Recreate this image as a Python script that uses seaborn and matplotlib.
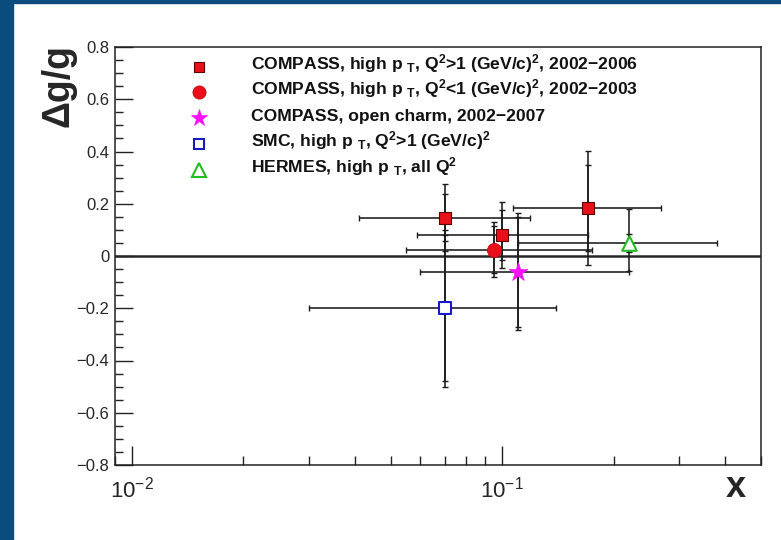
import numpy as np
import pandas as pd
import matplotlib
matplotlib.use("Agg")
import matplotlib.pyplot as plt
import seaborn as sns
from matplotlib.lines import Line2D
from matplotlib.patches import Rectangle
from matplotlib.ticker import FixedLocator, FixedFormatter, LogLocator, NullFormatter

# ---------------- data ----------------
# COMPASS, high pT, Q2>1, 2002-2006 (three x bins)
c06_x = [0.07, 0.10, 0.17]
c06_y = [0.147, 0.079, 0.185]
c06_stat = [0.091, 0.096, 0.165]
c06_tot_up = [0.127, 0.126, 0.218]
c06_tot_dn = [0.127, 0.126, 0.218]
c06_xlo = [0.041, 0.059, 0.107]
c06_xhi = [0.119, 0.170, 0.268]

# COMPASS, high pT, Q2<1, 2002-2003
c03_x = [0.095]
c03_y = [0.024]
c03_stat = [0.089]
c03_tot_up = [0.106]
c03_tot_dn = [0.106]
c03_xlo = [0.055]
c03_xhi = [0.175]

# COMPASS, open charm, 2002-2007
occ_x = [0.11]
occ_y = [-0.06]
occ_stat = [0.21]
occ_tot_up = [0.225]
occ_tot_dn = [0.225]
occ_xlo = [0.060]
occ_xhi = [0.220]

# SMC, high pT, Q2>1
smc_x = [0.07]
smc_y = [-0.20]
smc_stat = [0.28]
smc_tot_up = [0.30]
smc_tot_dn = [0.30]
smc_xlo = [0.030]
smc_xhi = [0.140]

# HERMES, high pT, all Q2
her_x = [0.22]
her_y = [0.049]
her_stat = [0.034]
her_tot_up = [0.131]
her_tot_dn = [0.105]
her_xlo = [0.110]
her_xhi = [0.380]

legend_labels = [
    r"COMPASS, high p $_{\mathbf{T}}$, Q$^{\mathbf{2}}$>1 (GeV/c)$^{\mathbf{2}}$, 2002−2006",
    r"COMPASS, high p $_{\mathbf{T}}$, Q$^{\mathbf{2}}$<1 (GeV/c)$^{\mathbf{2}}$, 2002−2003",
    "COMPASS, open charm, 2002−2007",
    r"SMC, high p $_{\mathbf{T}}$, Q$^{\mathbf{2}}$>1 (GeV/c)$^{\mathbf{2}}$",
    r"HERMES, high p $_{\mathbf{T}}$, all Q$^{\mathbf{2}}$",
]

y_ticks = [-0.8, -0.6, -0.4, -0.2, 0.0, 0.2, 0.4, 0.6, 0.8]
y_tick_labels = ["−0.8", "−0.6", "−0.4", "−0.2", "0", "0.2", "0.4", "0.6", "0.8"]
x_major_ticks = [0.01, 0.1]
x_tick_labels = [r"$\mathdefault{10^{-2}}$", r"$\mathdefault{10^{-1}}$"]

# ---------------- style ----------------
sns.set_style("white")
plt.rcParams["font.family"] = ["Liberation Sans", "DejaVu Sans"]
plt.rcParams["mathtext.fontset"] = "custom"
plt.rcParams["mathtext.rm"] = "Liberation Sans"
plt.rcParams["mathtext.bf"] = "Liberation Sans:bold"
plt.rcParams["mathtext.it"] = "Liberation Sans:italic"

series = [
    dict(x=c06_x, y=c06_y, stat=c06_stat, up=c06_tot_up, dn=c06_tot_dn, xlo=c06_xlo, xhi=c06_xhi,
         marker="s", s=66, face="#e8101a", edge="#5a0000", lw=0.8, lm=7.5),
    dict(x=c03_x, y=c03_y, stat=c03_stat, up=c03_tot_up, dn=c03_tot_dn, xlo=c03_xlo, xhi=c03_xhi,
         marker="o", s=105, face="#e8101a", edge="#c00010", lw=0.5, lm=9.5),
    dict(x=occ_x, y=occ_y, stat=occ_stat, up=occ_tot_up, dn=occ_tot_dn, xlo=occ_xlo, xhi=occ_xhi,
         marker="*", s=200, face="#ff10ff", edge="#ff10ff", lw=0.5, lm=12.5),
    dict(x=smc_x, y=smc_y, stat=smc_stat, up=smc_tot_up, dn=smc_tot_dn, xlo=smc_xlo, xhi=smc_xhi,
         marker="s", s=72, face="white", edge="#1818c8", lw=1.5, lm=7.5),
    dict(x=her_x, y=her_y, stat=her_stat, up=her_tot_up, dn=her_tot_dn, xlo=her_xlo, xhi=her_xhi,
         marker="^", s=110, face="white", edge="#22bb22", lw=1.5, lm=9.5),
]

fig = plt.figure(figsize=(7.81, 5.40), dpi=100)
fig.patch.set_facecolor("white")
ax = fig.add_axes([115 / 781, 1 - 465 / 540, 646 / 781, 418 / 540])

# blue frame strips (slide background)
fig.patches.append(Rectangle((0, 0), 13 / 781, 1, transform=fig.transFigure,
                             color="#0a4d7c", zorder=0))
fig.patches.append(Rectangle((0, 1 - 3 / 540), 1, 3 / 540, transform=fig.transFigure,
                             color="#0a4d7c", zorder=0))

ax.set_xscale("log")
ax.set_xlim(0.009, 0.5)
ax.set_ylim(-0.8, 0.8)

ax.axhline(0, color="#262626", lw=1.8, zorder=2)

ecol = "#1c1c1c"
for sd in series:
    x = np.array(sd["x"]); y = np.array(sd["y"])
    xerr = [x - np.array(sd["xlo"]), np.array(sd["xhi"]) - x]
    ax.errorbar(x, y, yerr=[sd["dn"], sd["up"]], xerr=xerr, fmt="none", ecolor=ecol,
                elinewidth=1.15, capsize=2.0, capthick=1.0, zorder=3)
    ax.errorbar(x, y, yerr=[sd["stat"], sd["stat"]], fmt="none", ecolor=ecol,
                elinewidth=1.15, capsize=2.0, capthick=1.0, zorder=3)
    df = pd.DataFrame({"x": x, "y": y})
    sns.scatterplot(data=df, x="x", y="y", marker=sd["marker"], s=sd["s"], color=sd["face"],
                    edgecolor=sd["edge"], linewidth=sd["lw"], ax=ax, zorder=5, legend=False)

# manual legend (ROOT-like layout)
row_px = [66.7, 91.9, 118.0, 143.6, 169.6]
for i, (sd, lab) in enumerate(zip(series, legend_labels)):
    ya = (465 - row_px[i]) / 418
    h = Line2D([(199 - 115) / 646], [ya], transform=ax.transAxes, linestyle="none",
               marker=sd["marker"], markersize=sd["lm"], markerfacecolor=sd["face"],
               markeredgecolor=sd["edge"], markeredgewidth=sd["lw"], clip_on=False)
    ax.add_line(h)
    ax.text((251 - 115) / 646, (465 - (row_px[i] + 2.8)) / 418, lab, transform=ax.transAxes,
            fontsize=12.6, fontweight="bold", ha="left", va="baseline", color="#111111")

# axes styling
for sp in ax.spines.values():
    sp.set_color("#222222")
    sp.set_linewidth(1.1)

ax.yaxis.set_major_locator(FixedLocator(y_ticks))
ax.yaxis.set_major_formatter(FixedFormatter(y_tick_labels))
ax.yaxis.set_minor_locator(FixedLocator(np.arange(-0.8, 0.81, 0.05)))
ax.xaxis.set_major_locator(FixedLocator(x_major_ticks))
ax.xaxis.set_major_formatter(FixedFormatter(x_tick_labels))
ax.xaxis.set_minor_locator(LogLocator(base=10, subs=np.arange(2, 10), numticks=20))
ax.xaxis.set_minor_formatter(NullFormatter())

ax.tick_params(axis="y", which="major", direction="in", length=13, width=1.0,
               color="#222222", labelsize=12, pad=4, left=True, right=False)
ax.tick_params(axis="y", which="minor", direction="in", length=5.8, width=1.0,
               color="#222222", left=True, right=False)
ax.tick_params(axis="x", which="major", direction="in", length=14, width=1.0,
               color="#222222", labelsize=16, pad=8, bottom=True, top=False)
ax.tick_params(axis="x", which="minor", direction="in", length=6.7, width=1.0,
               color="#222222", bottom=True, top=False)

ax.set_xlabel("x", fontsize=26, fontweight="bold")
ax.xaxis.label.set_ha("right")
ax.xaxis.label.set_va("baseline")
ax.xaxis.set_label_coords((746 - 115) / 646, (465 - 497) / 418)

ax.set_ylabel("Δg/g", fontsize=27, fontweight="bold")
ax.yaxis.label.set_ha("right")
ax.yaxis.label.set_va("center")
ax.yaxis.set_label_coords((59 - 115) / 646, (465 - 44) / 418)

fig.savefig("out.png", dpi=100)
